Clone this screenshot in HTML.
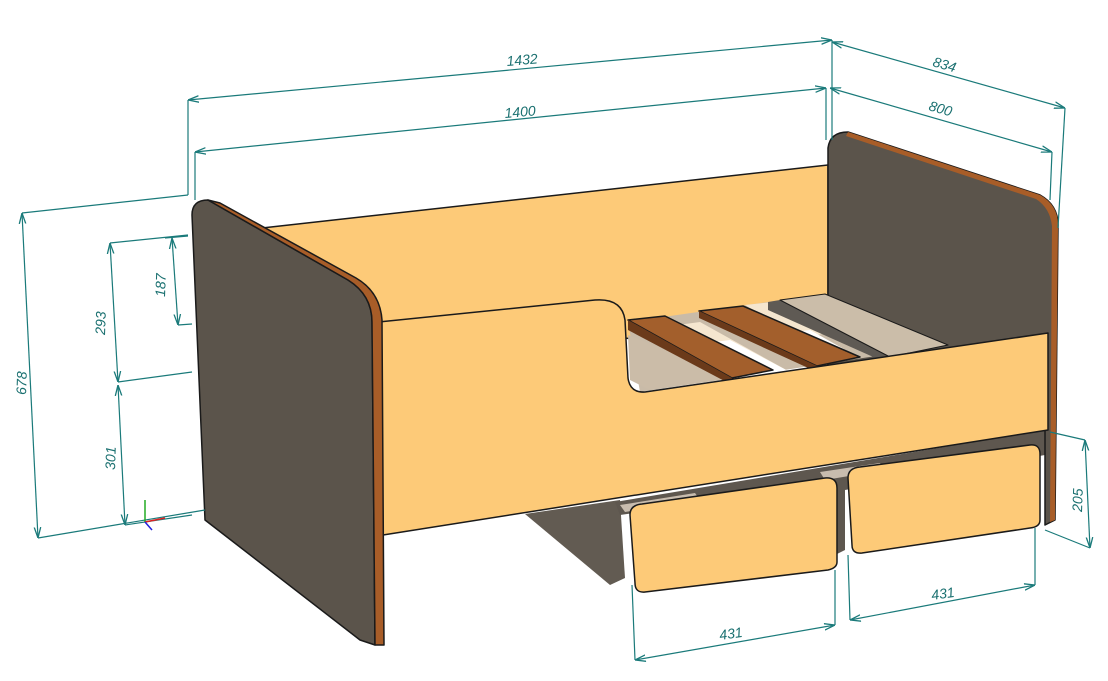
<!DOCTYPE html>
<html><head><style>
html,body{margin:0;padding:0;background:#fff;}
svg{display:block;}
text{font-family:"Liberation Sans",sans-serif;font-size:14px;fill:#1a7070;font-style:italic;}
</style></head><body>
<svg width="1108" height="681" viewBox="0 0 1108 681" xmlns="http://www.w3.org/2000/svg">
<defs>
<marker id="a" viewBox="0 0 10 10" refX="10" refY="5" markerWidth="9" markerHeight="9" orient="auto-start-reverse"><path d="M0,2 L10,5 L0,8" fill="none" stroke="#1a7a7a" stroke-width="1.2"/></marker>
</defs>
<g stroke="#1a1a1a" stroke-width="1.5" stroke-linejoin="round">
<polygon points="525,514 620,500 625,578 610,585" fill="#625b52" stroke="none"/>
<polygon points="615,502 1045,430 1045,455 845,490 845,550 835,555 835,485 620,515" fill="#5e574f" stroke="none"/>
<polygon points="620,505 695,493 700,500 625,512" fill="#c8bcae" stroke="none"/>
<polygon points="820,472 880,463 885,470 825,480" fill="#c8bcae" stroke="none"/>
<polygon points="262,228 828,165 828,345 380,330" fill="#fdca78"/>
<path d="M828,165 L828,148 Q830,132 848,132 L1040,195 Q1058,205 1058,225 L1055,520 L1045,525 L1045,340 L828,380 Z" fill="#5b544b"/>
<path d="M848,132 L1040,195 Q1058,205 1058,225 L1055,520 L1050,522 L1052,226 Q1050,208 1036,199 L846,136 Z" fill="#a85d28" stroke="none"/>
<polygon points="628,322 768,302 825,294 948,345 640,392" fill="#c9bba8" stroke="none"/>
<polygon points="628,335 735,378 650,390 630,380" fill="#cbbca8" stroke="none"/>
<polygon points="640,330 700,322 790,372 745,378" fill="#f5e6cf" stroke="none"/>
<polygon points="690,345 730,340 790,372 745,378" fill="#fff" stroke="none"/>
<polygon points="745,305 790,300 845,330 800,338" fill="#f5e6cf" stroke="none"/>
<polygon points="770,335 810,330 858,357 818,364" fill="#fff" stroke="none"/>
<polygon points="628,320 665,316 773,370 732,378" fill="#a35f2c"/>
<polygon points="628,320 628,330 732,385 732,378" fill="#6b3a1a" stroke="none"/>
<polygon points="699,311 743,306 860,357 817,366" fill="#a35f2c"/>
<polygon points="699,311 699,318 817,372 817,366" fill="#6b3a1a" stroke="none"/>
<polygon points="768,302 768,310 880,360 890,357 780,300" fill="#5f5a54" stroke="none"/>
<polygon points="780,300 825,294 948,345 890,357" fill="#cbbda9" stroke="#1a1a1a" stroke-width="1"/>
<path d="M378,322 L595,300 Q622,298 625,320 L628,378 Q630,393 645,392 L1048,333 L1048,430 L383,535 Z" fill="#fdca78"/>
<path d="M192,215 Q192,200 208,200 L348,280 Q372,295 372,322 L375,645 L360,640 L205,520 Z" fill="#5b544b"/>
<path d="M208,200 L348,280 Q372,295 372,322 L375,645 L384,645 L382,320 Q380,292 356,278 L220,203 Z" fill="#a85d28"/>
<path d="M630,515 Q630,505 642,504 L825,478 Q837,477 837,488 L837,562 Q837,568 828,570 L645,592 Q635,593 635,583 Z" fill="#fdca78"/>
<path d="M848,478 Q848,468 860,467 L1030,445 Q1040,444 1040,454 L1040,520 Q1040,527 1030,528 L862,553 Q852,554 852,545 Z" fill="#fdca78"/>
</g>
<g stroke="#1a7a7a" stroke-width="1.2" fill="none">
<line x1="188" y1="195" x2="188" y2="100"/><line x1="832" y1="40" x2="832" y2="140"/>
<line x1="188" y1="100" x2="832" y2="40" marker-start="url(#a)" marker-end="url(#a)"/>
<line x1="195" y1="200" x2="195" y2="152"/><line x1="826" y1="88" x2="826" y2="140"/>
<line x1="195" y1="152" x2="826" y2="88" marker-start="url(#a)" marker-end="url(#a)"/>
<line x1="832" y1="42" x2="1065" y2="108" marker-start="url(#a)" marker-end="url(#a)"/><line x1="1065" y1="108" x2="1058" y2="228"/>
<line x1="830" y1="88" x2="1052" y2="152" marker-start="url(#a)" marker-end="url(#a)"/><line x1="1052" y1="152" x2="1050" y2="200"/>
<line x1="188" y1="195" x2="22" y2="213"/><line x1="38" y1="538" x2="205" y2="510"/>
<line x1="22" y1="213" x2="38" y2="538" marker-start="url(#a)" marker-end="url(#a)"/>
<line x1="110" y1="243" x2="188" y2="235"/>
<line x1="110" y1="243" x2="118" y2="382" marker-start="url(#a)" marker-end="url(#a)"/>
<line x1="118" y1="382" x2="192" y2="372"/>
<line x1="118" y1="385" x2="125" y2="525" marker-start="url(#a)" marker-end="url(#a)"/>
<line x1="125" y1="525" x2="192" y2="515"/>
<line x1="165" y1="238" x2="188" y2="236"/>
<line x1="172" y1="238" x2="178" y2="325" marker-start="url(#a)" marker-end="url(#a)"/><line x1="178" y1="325" x2="192" y2="324"/>
<line x1="1050" y1="432" x2="1085" y2="440"/><line x1="1090" y1="548" x2="1045" y2="530"/>
<line x1="1085" y1="440" x2="1090" y2="548" marker-start="url(#a)" marker-end="url(#a)"/>
<line x1="632" y1="585" x2="635" y2="660"/><line x1="835" y1="625" x2="835" y2="570"/>
<line x1="635" y1="660" x2="835" y2="625" marker-start="url(#a)" marker-end="url(#a)"/>
<line x1="848" y1="555" x2="850" y2="620"/><line x1="1035" y1="585" x2="1035" y2="528"/>
<line x1="850" y1="620" x2="1035" y2="585" marker-start="url(#a)" marker-end="url(#a)"/>
</g>
<text x="507" y="66" transform="rotate(-5 507 66)">1432</text>
<text x="505" y="118" transform="rotate(-5 505 118)">1400</text>
<text x="932" y="66" transform="rotate(16 932 66)">834</text>
<text x="928" y="110" transform="rotate(16 928 110)">800</text>
<text x="26" y="395" transform="rotate(-88 26 395)">678</text>
<text x="105" y="335" transform="rotate(-88 105 335)">293</text>
<text x="165" y="297" transform="rotate(-88 165 297)">187</text>
<text x="115" y="470" transform="rotate(-88 115 470)">301</text>
<text x="1082" y="512" transform="rotate(-88 1082 512)">205</text>
<text x="720" y="640" transform="rotate(-8 720 640)">431</text>
<text x="932" y="600" transform="rotate(-8 932 600)">431</text>
<g stroke-width="1.5"><line x1="145" y1="522" x2="145" y2="500" stroke="#2a2"/><line x1="145" y1="522" x2="165" y2="518" stroke="#d22"/><line x1="145" y1="522" x2="152" y2="530" stroke="#22d"/></g>
</svg>
</body></html>
